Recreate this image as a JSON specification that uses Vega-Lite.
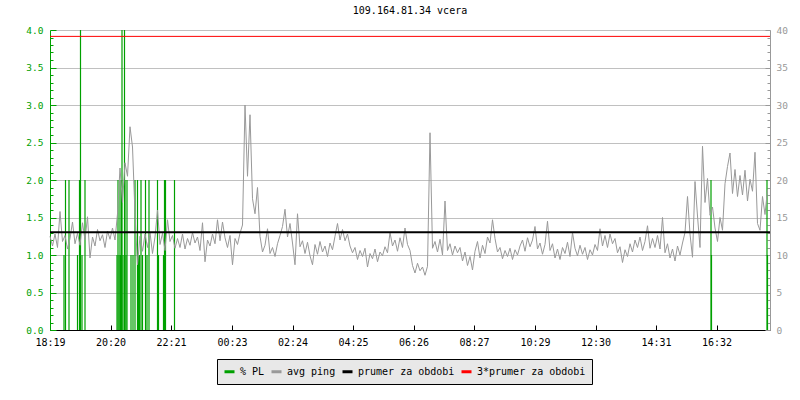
{
  "$schema": "https://vega.github.io/schema/vega-lite/v6.json",
  "width": 720,
  "height": 300,
  "autosize": {"type": "none"},
  "padding": {"left": 50, "top": 30, "right": 30, "bottom": 70},
  "background": "white",
  "title": {"text": "109.164.81.34 vcera", "font": "DejaVu Sans Mono", "fontSize": 10, "fontWeight": "normal", "color": "black", "anchor": "middle", "frame": "group", "offset": 9},
  "config": {"view": {"stroke": null}, "font": "DejaVu Sans Mono", "legend": {"title": null}},
  "datasets": {
    "pl": [
      {"t": "2024-05-01T18:47", "pl": 1}, {"t": "2024-05-01T18:50", "pl": 2}, {"t": "2024-05-01T18:57", "pl": 2},
      {"t": "2024-05-01T19:14", "pl": 1}, {"t": "2024-05-01T19:18", "pl": 2}, {"t": "2024-05-01T19:20", "pl": 4},
      {"t": "2024-05-01T19:23", "pl": 1}, {"t": "2024-05-01T19:29", "pl": 2},
      {"t": "2024-05-01T20:33", "pl": 1}, {"t": "2024-05-01T20:35", "pl": 2}, {"t": "2024-05-01T20:37", "pl": 1},
      {"t": "2024-05-01T20:39", "pl": 2}, {"t": "2024-05-01T20:40", "pl": 1}, {"t": "2024-05-01T20:42", "pl": 2},
      {"t": "2024-05-01T20:43", "pl": 4}, {"t": "2024-05-01T20:45", "pl": 1}, {"t": "2024-05-01T20:48", "pl": 4},
      {"t": "2024-05-01T20:49", "pl": 2}, {"t": "2024-05-01T20:51", "pl": 1}, {"t": "2024-05-01T20:53", "pl": 2},
      {"t": "2024-05-01T21:01", "pl": 1}, {"t": "2024-05-01T21:05", "pl": 1}, {"t": "2024-05-01T21:09", "pl": 2},
      {"t": "2024-05-01T21:14", "pl": 2}, {"t": "2024-05-01T21:16", "pl": 1}, {"t": "2024-05-01T21:18", "pl": 1},
      {"t": "2024-05-01T21:21", "pl": 2}, {"t": "2024-05-01T21:24", "pl": 1}, {"t": "2024-05-01T21:30", "pl": 2},
      {"t": "2024-05-01T21:33", "pl": 1}, {"t": "2024-05-01T21:37", "pl": 2}, {"t": "2024-05-01T21:54", "pl": 2},
      {"t": "2024-05-01T21:56", "pl": 1}, {"t": "2024-05-01T22:06", "pl": 1}, {"t": "2024-05-01T22:08", "pl": 2},
      {"t": "2024-05-01T22:10", "pl": 2}, {"t": "2024-05-01T22:28", "pl": 2},
      {"t": "2024-05-02T16:21", "pl": 2}, {"t": "2024-05-02T16:22", "pl": 1},
      {"t": "2024-05-02T18:13", "pl": 2}, {"t": "2024-05-02T18:14", "pl": 1}
    ],
    "avg": [
      {"name": "prumer za obdobi", "v": 13.05},
      {"name": "3*prumer za obdobi", "v": 39.15}
    ],
    "ping": [
      {"t": "2024-05-01T18:19", "ping": 12.5}, {"t": "2024-05-01T18:24", "ping": 11.2}, {"t": "2024-05-01T18:29", "ping": 12.8}, {"t": "2024-05-01T18:34", "ping": 11.0},
      {"t": "2024-05-01T18:39", "ping": 15.8}, {"t": "2024-05-01T18:44", "ping": 11.8}, {"t": "2024-05-01T18:49", "ping": 12.6}, {"t": "2024-05-01T18:54", "ping": 10.8},
      {"t": "2024-05-01T18:59", "ping": 12.2}, {"t": "2024-05-01T19:04", "ping": 14.4}, {"t": "2024-05-01T19:09", "ping": 11.5}, {"t": "2024-05-01T19:14", "ping": 12.9},
      {"t": "2024-05-01T19:19", "ping": 11.3}, {"t": "2024-05-01T19:24", "ping": 14.3}, {"t": "2024-05-01T19:29", "ping": 12.0}, {"t": "2024-05-01T19:34", "ping": 15.1},
      {"t": "2024-05-01T19:39", "ping": 9.6}, {"t": "2024-05-01T19:44", "ping": 12.4}, {"t": "2024-05-01T19:49", "ping": 11.2}, {"t": "2024-05-01T19:54", "ping": 13.4},
      {"t": "2024-05-01T19:59", "ping": 11.9}, {"t": "2024-05-01T20:04", "ping": 12.7}, {"t": "2024-05-01T20:09", "ping": 11.0}, {"t": "2024-05-01T20:14", "ping": 13.2},
      {"t": "2024-05-01T20:19", "ping": 12.1}, {"t": "2024-05-01T20:24", "ping": 13.6}, {"t": "2024-05-01T20:29", "ping": 12.0}, {"t": "2024-05-01T20:34", "ping": 15.5},
      {"t": "2024-05-01T20:39", "ping": 21.6}, {"t": "2024-05-01T20:44", "ping": 17.0}, {"t": "2024-05-01T20:49", "ping": 22.3}, {"t": "2024-05-01T20:54", "ping": 20.5},
      {"t": "2024-05-01T20:59", "ping": 27.1}, {"t": "2024-05-01T21:04", "ping": 24.4}, {"t": "2024-05-01T21:09", "ping": 15.5}, {"t": "2024-05-01T21:14", "ping": 8.7},
      {"t": "2024-05-01T21:19", "ping": 12.5}, {"t": "2024-05-01T21:24", "ping": 10.5}, {"t": "2024-05-01T21:29", "ping": 12.8}, {"t": "2024-05-01T21:34", "ping": 11.0},
      {"t": "2024-05-01T21:39", "ping": 13.0}, {"t": "2024-05-01T21:44", "ping": 10.2}, {"t": "2024-05-01T21:49", "ping": 12.4}, {"t": "2024-05-01T21:54", "ping": 16.0},
      {"t": "2024-05-01T21:59", "ping": 11.4}, {"t": "2024-05-01T22:04", "ping": 12.9}, {"t": "2024-05-01T22:09", "ping": 10.6}, {"t": "2024-05-01T22:14", "ping": 14.7},
      {"t": "2024-05-01T22:19", "ping": 11.8}, {"t": "2024-05-01T22:24", "ping": 12.6}, {"t": "2024-05-01T22:29", "ping": 10.9}, {"t": "2024-05-01T22:34", "ping": 12.2},
      {"t": "2024-05-01T22:39", "ping": 11.0}, {"t": "2024-05-01T22:44", "ping": 12.8}, {"t": "2024-05-01T22:49", "ping": 10.8}, {"t": "2024-05-01T22:54", "ping": 12.2},
      {"t": "2024-05-01T22:59", "ping": 11.3}, {"t": "2024-05-01T23:04", "ping": 13.0}, {"t": "2024-05-01T23:09", "ping": 11.6}, {"t": "2024-05-01T23:14", "ping": 12.4},
      {"t": "2024-05-01T23:19", "ping": 10.6}, {"t": "2024-05-01T23:24", "ping": 14.3}, {"t": "2024-05-01T23:29", "ping": 9.1}, {"t": "2024-05-01T23:34", "ping": 12.0},
      {"t": "2024-05-01T23:39", "ping": 11.2}, {"t": "2024-05-01T23:44", "ping": 12.8}, {"t": "2024-05-01T23:49", "ping": 11.5}, {"t": "2024-05-01T23:54", "ping": 14.7},
      {"t": "2024-05-01T23:59", "ping": 11.9}, {"t": "2024-05-02T00:04", "ping": 14.4}, {"t": "2024-05-02T00:09", "ping": 12.3}, {"t": "2024-05-02T00:14", "ping": 11.0},
      {"t": "2024-05-02T00:19", "ping": 12.6}, {"t": "2024-05-02T00:24", "ping": 8.7}, {"t": "2024-05-02T00:29", "ping": 12.2}, {"t": "2024-05-02T00:34", "ping": 11.4},
      {"t": "2024-05-02T00:39", "ping": 12.9}, {"t": "2024-05-02T00:44", "ping": 14.0}, {"t": "2024-05-02T00:49", "ping": 30.0}, {"t": "2024-05-02T00:54", "ping": 20.5},
      {"t": "2024-05-02T00:59", "ping": 28.7}, {"t": "2024-05-02T01:04", "ping": 17.5}, {"t": "2024-05-02T01:09", "ping": 15.5}, {"t": "2024-05-02T01:14", "ping": 19.0},
      {"t": "2024-05-02T01:19", "ping": 12.5}, {"t": "2024-05-02T01:24", "ping": 10.4}, {"t": "2024-05-02T01:29", "ping": 11.3}, {"t": "2024-05-02T01:34", "ping": 13.5},
      {"t": "2024-05-02T01:39", "ping": 10.2}, {"t": "2024-05-02T01:44", "ping": 11.0}, {"t": "2024-05-02T01:49", "ping": 9.8}, {"t": "2024-05-02T01:54", "ping": 11.5},
      {"t": "2024-05-02T01:59", "ping": 12.6}, {"t": "2024-05-02T02:04", "ping": 13.8}, {"t": "2024-05-02T02:09", "ping": 16.1}, {"t": "2024-05-02T02:14", "ping": 12.4},
      {"t": "2024-05-02T02:19", "ping": 14.2}, {"t": "2024-05-02T02:24", "ping": 11.6}, {"t": "2024-05-02T02:29", "ping": 8.7}, {"t": "2024-05-02T02:34", "ping": 15.5},
      {"t": "2024-05-02T02:39", "ping": 11.1}, {"t": "2024-05-02T02:44", "ping": 11.9}, {"t": "2024-05-02T02:49", "ping": 10.2}, {"t": "2024-05-02T02:54", "ping": 11.7},
      {"t": "2024-05-02T02:59", "ping": 9.9}, {"t": "2024-05-02T03:04", "ping": 8.7}, {"t": "2024-05-02T03:09", "ping": 11.4}, {"t": "2024-05-02T03:14", "ping": 10.1},
      {"t": "2024-05-02T03:19", "ping": 11.8}, {"t": "2024-05-02T03:24", "ping": 10.4}, {"t": "2024-05-02T03:29", "ping": 11.2}, {"t": "2024-05-02T03:34", "ping": 9.8},
      {"t": "2024-05-02T03:39", "ping": 11.6}, {"t": "2024-05-02T03:44", "ping": 10.7}, {"t": "2024-05-02T03:49", "ping": 12.5}, {"t": "2024-05-02T03:54", "ping": 14.2},
      {"t": "2024-05-02T03:59", "ping": 12.0}, {"t": "2024-05-02T04:04", "ping": 13.4}, {"t": "2024-05-02T04:09", "ping": 11.9}, {"t": "2024-05-02T04:14", "ping": 12.8},
      {"t": "2024-05-02T04:19", "ping": 11.2}, {"t": "2024-05-02T04:24", "ping": 10.3}, {"t": "2024-05-02T04:29", "ping": 11.0}, {"t": "2024-05-02T04:34", "ping": 9.4},
      {"t": "2024-05-02T04:39", "ping": 10.6}, {"t": "2024-05-02T04:44", "ping": 9.8}, {"t": "2024-05-02T04:49", "ping": 10.9}, {"t": "2024-05-02T04:54", "ping": 8.4},
      {"t": "2024-05-02T04:59", "ping": 10.2}, {"t": "2024-05-02T05:04", "ping": 9.5}, {"t": "2024-05-02T05:09", "ping": 10.8}, {"t": "2024-05-02T05:14", "ping": 9.1},
      {"t": "2024-05-02T05:19", "ping": 10.4}, {"t": "2024-05-02T05:24", "ping": 9.9}, {"t": "2024-05-02T05:29", "ping": 11.1}, {"t": "2024-05-02T05:34", "ping": 10.3},
      {"t": "2024-05-02T05:39", "ping": 13.0}, {"t": "2024-05-02T05:44", "ping": 11.2}, {"t": "2024-05-02T05:49", "ping": 12.0}, {"t": "2024-05-02T05:54", "ping": 10.5},
      {"t": "2024-05-02T05:59", "ping": 12.3}, {"t": "2024-05-02T06:04", "ping": 11.0}, {"t": "2024-05-02T06:09", "ping": 13.6}, {"t": "2024-05-02T06:14", "ping": 11.4},
      {"t": "2024-05-02T06:19", "ping": 10.6}, {"t": "2024-05-02T06:24", "ping": 8.6}, {"t": "2024-05-02T06:29", "ping": 7.6}, {"t": "2024-05-02T06:34", "ping": 8.9},
      {"t": "2024-05-02T06:39", "ping": 7.9}, {"t": "2024-05-02T06:44", "ping": 8.4}, {"t": "2024-05-02T06:49", "ping": 7.3}, {"t": "2024-05-02T06:54", "ping": 8.5},
      {"t": "2024-05-02T06:59", "ping": 26.3}, {"t": "2024-05-02T07:04", "ping": 10.9}, {"t": "2024-05-02T07:09", "ping": 11.8}, {"t": "2024-05-02T07:14", "ping": 10.4},
      {"t": "2024-05-02T07:19", "ping": 12.1}, {"t": "2024-05-02T07:24", "ping": 10.0}, {"t": "2024-05-02T07:29", "ping": 17.2}, {"t": "2024-05-02T07:34", "ping": 10.6},
      {"t": "2024-05-02T07:39", "ping": 11.5}, {"t": "2024-05-02T07:44", "ping": 10.0}, {"t": "2024-05-02T07:49", "ping": 11.2}, {"t": "2024-05-02T07:54", "ping": 10.3},
      {"t": "2024-05-02T07:59", "ping": 11.0}, {"t": "2024-05-02T08:04", "ping": 9.2}, {"t": "2024-05-02T08:09", "ping": 10.4}, {"t": "2024-05-02T08:14", "ping": 8.6},
      {"t": "2024-05-02T08:19", "ping": 9.8}, {"t": "2024-05-02T08:24", "ping": 8.0}, {"t": "2024-05-02T08:29", "ping": 10.5}, {"t": "2024-05-02T08:34", "ping": 11.8},
      {"t": "2024-05-02T08:39", "ping": 9.6}, {"t": "2024-05-02T08:44", "ping": 11.3}, {"t": "2024-05-02T08:49", "ping": 10.2}, {"t": "2024-05-02T08:54", "ping": 12.4},
      {"t": "2024-05-02T08:59", "ping": 11.6}, {"t": "2024-05-02T09:04", "ping": 14.7}, {"t": "2024-05-02T09:09", "ping": 12.2}, {"t": "2024-05-02T09:14", "ping": 10.4},
      {"t": "2024-05-02T09:19", "ping": 11.0}, {"t": "2024-05-02T09:24", "ping": 9.5}, {"t": "2024-05-02T09:29", "ping": 10.6}, {"t": "2024-05-02T09:34", "ping": 9.8},
      {"t": "2024-05-02T09:39", "ping": 10.9}, {"t": "2024-05-02T09:44", "ping": 9.4}, {"t": "2024-05-02T09:49", "ping": 10.7}, {"t": "2024-05-02T09:54", "ping": 10.0},
      {"t": "2024-05-02T09:59", "ping": 11.2}, {"t": "2024-05-02T10:04", "ping": 12.0}, {"t": "2024-05-02T10:09", "ping": 10.5}, {"t": "2024-05-02T10:14", "ping": 12.3},
      {"t": "2024-05-02T10:19", "ping": 11.1}, {"t": "2024-05-02T10:24", "ping": 12.0}, {"t": "2024-05-02T10:29", "ping": 13.8}, {"t": "2024-05-02T10:34", "ping": 10.8},
      {"t": "2024-05-02T10:39", "ping": 11.6}, {"t": "2024-05-02T10:44", "ping": 10.1}, {"t": "2024-05-02T10:49", "ping": 11.4}, {"t": "2024-05-02T10:54", "ping": 14.5},
      {"t": "2024-05-02T10:59", "ping": 10.6}, {"t": "2024-05-02T11:04", "ping": 11.5}, {"t": "2024-05-02T11:09", "ping": 9.6}, {"t": "2024-05-02T11:14", "ping": 10.8},
      {"t": "2024-05-02T11:19", "ping": 9.4}, {"t": "2024-05-02T11:24", "ping": 11.0}, {"t": "2024-05-02T11:29", "ping": 10.2}, {"t": "2024-05-02T11:34", "ping": 11.7},
      {"t": "2024-05-02T11:39", "ping": 9.8}, {"t": "2024-05-02T11:44", "ping": 13.0}, {"t": "2024-05-02T11:49", "ping": 10.9}, {"t": "2024-05-02T11:54", "ping": 9.9},
      {"t": "2024-05-02T11:59", "ping": 11.3}, {"t": "2024-05-02T12:04", "ping": 10.1}, {"t": "2024-05-02T12:09", "ping": 11.0}, {"t": "2024-05-02T12:14", "ping": 9.4},
      {"t": "2024-05-02T12:19", "ping": 10.7}, {"t": "2024-05-02T12:24", "ping": 10.0}, {"t": "2024-05-02T12:29", "ping": 11.4}, {"t": "2024-05-02T12:34", "ping": 10.6},
      {"t": "2024-05-02T12:39", "ping": 13.5}, {"t": "2024-05-02T12:44", "ping": 11.2}, {"t": "2024-05-02T12:49", "ping": 12.6}, {"t": "2024-05-02T12:54", "ping": 11.0},
      {"t": "2024-05-02T12:59", "ping": 12.8}, {"t": "2024-05-02T13:04", "ping": 11.5}, {"t": "2024-05-02T13:09", "ping": 12.2}, {"t": "2024-05-02T13:14", "ping": 10.3},
      {"t": "2024-05-02T13:19", "ping": 11.1}, {"t": "2024-05-02T13:24", "ping": 9.0}, {"t": "2024-05-02T13:29", "ping": 10.7}, {"t": "2024-05-02T13:34", "ping": 9.8},
      {"t": "2024-05-02T13:39", "ping": 11.5}, {"t": "2024-05-02T13:44", "ping": 10.4}, {"t": "2024-05-02T13:49", "ping": 12.0}, {"t": "2024-05-02T13:54", "ping": 11.0},
      {"t": "2024-05-02T13:59", "ping": 12.4}, {"t": "2024-05-02T14:04", "ping": 10.6}, {"t": "2024-05-02T14:09", "ping": 11.8}, {"t": "2024-05-02T14:14", "ping": 13.9},
      {"t": "2024-05-02T14:19", "ping": 10.9}, {"t": "2024-05-02T14:24", "ping": 12.2}, {"t": "2024-05-02T14:29", "ping": 11.0}, {"t": "2024-05-02T14:34", "ping": 12.6},
      {"t": "2024-05-02T14:39", "ping": 10.8}, {"t": "2024-05-02T14:44", "ping": 15.0}, {"t": "2024-05-02T14:49", "ping": 10.3}, {"t": "2024-05-02T14:54", "ping": 11.5},
      {"t": "2024-05-02T14:59", "ping": 9.6}, {"t": "2024-05-02T15:04", "ping": 10.8}, {"t": "2024-05-02T15:09", "ping": 9.2}, {"t": "2024-05-02T15:14", "ping": 11.2},
      {"t": "2024-05-02T15:19", "ping": 10.0}, {"t": "2024-05-02T15:24", "ping": 11.6}, {"t": "2024-05-02T15:29", "ping": 13.0}, {"t": "2024-05-02T15:34", "ping": 17.8},
      {"t": "2024-05-02T15:39", "ping": 12.8}, {"t": "2024-05-02T15:44", "ping": 9.7}, {"t": "2024-05-02T15:49", "ping": 19.8}, {"t": "2024-05-02T15:54", "ping": 15.2},
      {"t": "2024-05-02T15:59", "ping": 11.0}, {"t": "2024-05-02T16:04", "ping": 24.5}, {"t": "2024-05-02T16:09", "ping": 17.0}, {"t": "2024-05-02T16:14", "ping": 20.2},
      {"t": "2024-05-02T16:19", "ping": 15.3}, {"t": "2024-05-02T16:24", "ping": 16.4}, {"t": "2024-05-02T16:29", "ping": 13.6}, {"t": "2024-05-02T16:34", "ping": 11.8},
      {"t": "2024-05-02T16:39", "ping": 15.0}, {"t": "2024-05-02T16:44", "ping": 13.3}, {"t": "2024-05-02T16:49", "ping": 19.5}, {"t": "2024-05-02T16:54", "ping": 21.8},
      {"t": "2024-05-02T16:59", "ping": 23.6}, {"t": "2024-05-02T17:04", "ping": 18.2}, {"t": "2024-05-02T17:09", "ping": 21.4}, {"t": "2024-05-02T17:14", "ping": 17.8},
      {"t": "2024-05-02T17:19", "ping": 20.6}, {"t": "2024-05-02T17:24", "ping": 18.0}, {"t": "2024-05-02T17:29", "ping": 21.3}, {"t": "2024-05-02T17:34", "ping": 17.2},
      {"t": "2024-05-02T17:39", "ping": 20.1}, {"t": "2024-05-02T17:44", "ping": 18.5}, {"t": "2024-05-02T17:49", "ping": 23.7}, {"t": "2024-05-02T17:54", "ping": 14.2},
      {"t": "2024-05-02T17:59", "ping": 13.3}, {"t": "2024-05-02T18:04", "ping": 17.8}, {"t": "2024-05-02T18:09", "ping": 15.4}, {"t": "2024-05-02T18:14", "ping": 18.7}
    ]
  },
  "layer": [
    {
      "data": {"name": "pl"},
      "mark": {"type": "rule", "strokeWidth": 1.2},
      "encoding": {
        "x": {
          "field": "t", "type": "temporal",
          "scale": {"domain": [{"year": 2024, "month": 5, "date": 1, "hours": 18, "minutes": 19}, {"year": 2024, "month": 5, "date": 2, "hours": 18, "minutes": 19}]},
          "axis": {
            "title": null, "grid": false, "format": "%H:%M", "labelFlush": false, "labelOverlap": false,
            "values": [
              {"year": 2024, "month": 5, "date": 1, "hours": 18, "minutes": 19},
              {"year": 2024, "month": 5, "date": 1, "hours": 20, "minutes": 20},
              {"year": 2024, "month": 5, "date": 1, "hours": 22, "minutes": 21},
              {"year": 2024, "month": 5, "date": 2, "hours": 0, "minutes": 23},
              {"year": 2024, "month": 5, "date": 2, "hours": 2, "minutes": 24},
              {"year": 2024, "month": 5, "date": 2, "hours": 4, "minutes": 25},
              {"year": 2024, "month": 5, "date": 2, "hours": 6, "minutes": 26},
              {"year": 2024, "month": 5, "date": 2, "hours": 8, "minutes": 27},
              {"year": 2024, "month": 5, "date": 2, "hours": 10, "minutes": 29},
              {"year": 2024, "month": 5, "date": 2, "hours": 12, "minutes": 30},
              {"year": 2024, "month": 5, "date": 2, "hours": 14, "minutes": 31},
              {"year": 2024, "month": 5, "date": 2, "hours": 16, "minutes": 32}
            ],
            "tickSize": -5, "labelPadding": 12, "domainColor": "black", "tickColor": "black",
            "labelColor": "black", "labelFont": "DejaVu Sans Mono", "labelFontSize": 10
          }
        },
        "y": {
          "field": "pl", "type": "quantitative",
          "scale": {"domain": [0, 4]},
          "axis": {
            "orient": "left", "title": null,
            "values": [0, 0.1, 0.2, 0.3, 0.4, 0.5, 0.6, 0.7, 0.8, 0.9, 1, 1.1, 1.2, 1.3, 1.4, 1.5, 1.6, 1.7, 1.8, 1.9, 2, 2.1, 2.2, 2.3, 2.4, 2.5, 2.6, 2.7, 2.8, 2.9, 3, 3.1, 3.2, 3.3, 3.4, 3.5, 3.6, 3.7, 3.8, 3.9, 4],
            "labelExpr": "abs(datum.value*2-round(datum.value*2))<0.001 ? format(datum.value,'.1f') : ''",
            "labelOverlap": false, "labelBound": false, "labelFlush": false,
            "labelColor": "#00a000", "labelFont": "DejaVu Sans Mono", "labelFontSize": 9.5,
            "tickColor": "#00a000", "domainColor": "#00a000",
            "tickSize": {"condition": {"test": "abs(datum.value*2-round(datum.value*2))<0.001", "value": -6}, "value": -3},
            "labelPadding": 13,
            "grid": true, "gridColor": "#c0c0c0",
            "gridOpacity": {"condition": {"test": "abs(datum.value*2-round(datum.value*2))<0.001", "value": 1}, "value": 0}
          }
        },
        "y2": {"datum": 0},
        "color": {
          "datum": "% PL", "type": "nominal", "title": null,
          "scale": {"domain": ["% PL", "avg ping", "prumer za obdobi", "3*prumer za obdobi"], "range": ["#00a000", "#999999", "#000000", "#ff0000"]},
          "legend": {
            "orient": "none", "legendX": 167, "legendY": 329, "direction": "horizontal", "title": null,
            "symbolType": "stroke", "symbolSize": 100, "symbolStrokeWidth": 3,
            "labelFont": "DejaVu Sans Mono", "labelFontSize": 10, "labelColor": "black",
            "fillColor": "#e8e8e8", "strokeColor": "black", "padding": 6, "columnPadding": 0, "labelOffset": 4
          }
        }
      }
    },
    {
      "data": {"name": "ping"},
      "mark": {"type": "line", "strokeWidth": 1},
      "encoding": {
        "x": {"field": "t", "type": "temporal"},
        "y": {
          "field": "ping", "type": "quantitative",
          "scale": {"domain": [0, 40]},
          "axis": {
            "orient": "right", "title": null, "grid": false,
            "values": [0, 1, 2, 3, 4, 5, 6, 7, 8, 9, 10, 11, 12, 13, 14, 15, 16, 17, 18, 19, 20, 21, 22, 23, 24, 25, 26, 27, 28, 29, 30, 31, 32, 33, 34, 35, 36, 37, 38, 39, 40],
            "labelExpr": "datum.value % 5 == 0 ? format(datum.value,'d') : ''",
            "labelOverlap": false, "labelBound": false, "labelFlush": false,
            "labelColor": "#999999", "labelFont": "DejaVu Sans Mono", "labelFontSize": 9.5,
            "tickColor": "#999999", "domainColor": "#999999",
            "tickSize": {"condition": {"test": "datum.value % 5 == 0", "value": -5}, "value": -3},
            "labelPadding": 11
          }
        },
        "color": {"datum": "avg ping", "type": "nominal", "title": null}
      }
    },
    {
      "data": {"name": "avg"},
      "transform": [{"filter": "datum.name == 'prumer za obdobi'"}],
      "mark": {"type": "rule", "strokeWidth": 2},
      "encoding": {
        "y": {"field": "v", "type": "quantitative", "scale": {"domain": [0, 40]}, "axis": null},
        "color": {"field": "name", "type": "nominal", "title": null}
      }
    },
    {
      "data": {"name": "avg"},
      "transform": [{"filter": "datum.name == '3*prumer za obdobi'"}],
      "mark": {"type": "rule", "strokeWidth": 1},
      "encoding": {
        "y": {"field": "v", "type": "quantitative", "scale": {"domain": [0, 40]}, "axis": null},
        "color": {"field": "name", "type": "nominal", "title": null}
      }
    }
  ],
  "resolve": {"scale": {"y": "independent"}, "axis": {"y": "independent"}}
}
